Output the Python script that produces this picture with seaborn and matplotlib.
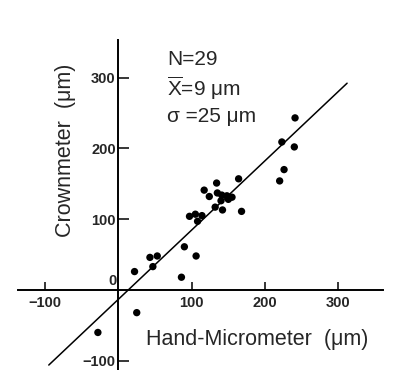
import matplotlib
matplotlib.use("Agg")
import numpy as np
import pandas as pd
import seaborn as sns
import matplotlib.pyplot as plt

# values (micrometres)
hand_um = [241, 223, 240, 226, 220, 164, 134, 117, 124, 135, 141, 148, 155,
           140, 150, 132, 142, 168, 97, 105, 114, 108, 90, 106, 43, 53, 47,
           22, 86, 25, -28]
crown_um = [243, 209, 202, 170, 154, 157, 151, 141, 132, 137, 134, 133, 131,
            126, 128, 117, 113, 111, 104, 107, 105, 97, 61, 48, 46, 48, 33,
            26, 18, -32, -60]

# fitted line shown in the figure
line_x = [-95, 312]
line_y = [-106, 292]

x_ticks = [-100, 100, 200, 300]
y_ticks = [-100, 100, 200, 300]
stats_text = "N=29\n$\\overline{\\mathrm{X}}$=9 \u03bcm\n\u03c3 =25 \u03bcm"


def main():
    sns.set_style("white")
    plt.rcParams["font.family"] = ["Liberation Sans", "DejaVu Sans"]
    plt.rcParams["mathtext.fontset"] = "custom"
    plt.rcParams["mathtext.rm"] = "Liberation Sans"

    df = pd.DataFrame({"hand": hand_um, "crown": crown_um})

    fig = plt.figure(figsize=(3.93, 3.70), dpi=100)
    ax = fig.add_axes([18 / 393, 0, 365 / 393, 330 / 370])

    sns.scatterplot(data=df, x="hand", y="crown", color="black", s=28,
                    edgecolor="none", ax=ax, zorder=3)
    sns.lineplot(x=line_x, y=line_y, color="black", linewidth=1.1, ax=ax)

    ax.set_xlim(-137, 361)
    ax.set_ylim(-113, 353)

    # axes crossing at the origin
    ax.spines["left"].set_position(("data", 0))
    ax.spines["bottom"].set_position(("data", 0))
    ax.spines["top"].set_visible(False)
    ax.spines["right"].set_visible(False)
    for s in ("left", "bottom"):
        ax.spines[s].set_linewidth(1.4)
        ax.spines[s].set_color("black")

    ax.set_xticks(x_ticks)
    ax.set_xticklabels([f"{v}".replace("-", "\u2212") for v in x_ticks],
                       fontweight="bold", fontsize=10.5)
    ax.set_yticks(y_ticks)
    ax.set_yticklabels([f"{v}".replace("-", "\u2212") for v in y_ticks],
                       fontweight="bold", fontsize=10.5)
    ax.tick_params(axis="x", direction="in", length=6, width=1.3, pad=4,
                   bottom=True)
    ax.tick_params(axis="y", direction="in", length=8, width=1.3, pad=2,
                   left=True)
    ax.text(-3, 3, "0", ha="right", va="bottom", fontsize=10.5,
            fontweight="bold")

    ax.set_xlabel("Hand-Micrometer  (\u03bcm)", fontsize=15.5)
    ax.xaxis.set_label_coords(0.655, 0.125)
    ax.set_ylabel("Crownmeter  (\u03bcm)", fontsize=15.5)
    ax.yaxis.set_label_coords(0.16, 0.665)

    ax.text(0.408, 0.97, stats_text, transform=ax.transAxes, ha="left",
            va="top", fontsize=15, linespacing=1.3)

    fig.savefig("out.png", dpi=100)


if __name__ == "__main__":
    main()
